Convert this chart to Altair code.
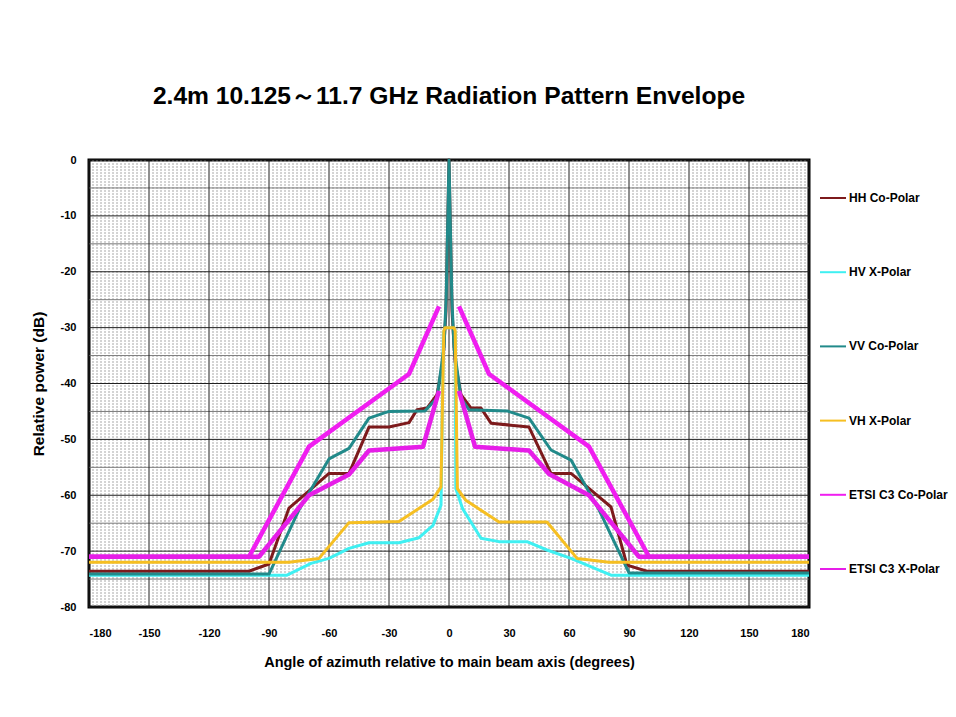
import altair as alt
import pandas as pd

SERIES = ["HH Co-Polar", "HV X-Polar", "VV Co-Polar", "VH X-Polar",
          "ETSI C3 Co-Polar", "ETSI C3 X-Polar"]
COLORS = ["#7d1a1c", "#3ff0f2", "#218a8a", "#f6bf22", "#f01ef0", "#e61ee8"]
WIDTHS = [3, 3, 3, 3, 4.5, 4.5]

# HH Co-Polar
hh_x = [-180, -100, -90, -80, -70, -60, -50, -40, -30, -20, -16, -11, -6, -3, -1.5, 0,
        1.5, 3, 6, 11, 16, 21, 40, 51, 61, 71, 81, 89, 99, 180]
hh_y = [-73.6, -73.6, -72.3, -62.3, -59.2, -56.1, -56.1, -47.8, -47.8, -47.0, -44.7, -44.4, -42.0, -36.0, -27.0, 0,
        -27.0, -36.0, -42.0, -44.4, -44.4, -47.1, -47.8, -56.1, -56.1, -59.1, -62.1, -72.5, -73.6, -73.6]

# HV X-Polar
hv_x = [-180, -81, -69, -60, -50, -40, -25, -15, -8, -4, -2.8, -2, 2.5, 3.1, 3.4, 6.8, 16, 25, 39, 49, 61, 81, 180]
hv_y = [-74.3, -74.3, -72.2, -71.3, -69.5, -68.5, -68.5, -67.6, -65.4, -61.8, -31.0, -30.0, -30.0, -31.0, -58.8,
        -62.4, -67.7, -68.3, -68.3, -69.8, -71.3, -74.3, -74.3]

# VV Co-Polar
vv_x = [-180, -90, -75, -60, -50, -40, -30, -12, -6, -2.5, -1.4, 0, 1.4, 2.5, 6, 10, 29, 40, 51, 61, 75, 90, 180]
vv_y = [-74.1, -74.1, -62.6, -53.5, -51.6, -46.2, -45.0, -44.9, -42.6, -33.5, -24.5, 0, -24.5, -33.5, -42.6, -44.7,
        -44.9, -46.2, -51.9, -53.7, -62.6, -73.9, -73.9]

# VH X-Polar
vh_x = [-180, -80, -65, -50, -25, -8, -4, -2.6, -2, 2.5, 3.1, 4.2, 8.4, 25, 49, 64, 80, 180]
vh_y = [-72.0, -72.0, -71.3, -64.9, -64.7, -60.7, -58.5, -30.6, -30.0, -30.0, -30.6, -58.8, -60.9, -64.8, -64.8,
        -71.3, -72.0, -72.0]

# ETSI C3 Co-Polar (two separate branches)
ec_left_x = [-180, -100, -70, -20, -5]
ec_left_y = [-71.0, -71.0, -51.3, -38.3, -26.2]
ec_right_x = [5, 20, 70, 100, 180]
ec_right_y = [-26.2, -38.3, -51.3, -71.0, -71.0]

# ETSI C3 X-Polar (two separate branches)
ex_left_x = [-180, -95, -70, -50, -40, -13, -5]
ex_left_y = [-71.0, -71.0, -60.0, -56.3, -52.0, -51.3, -41.3]
ex_right_x = [5, 13, 40, 50, 70, 95, 180]
ex_right_y = [-41.3, -51.3, -52.0, -56.2, -60.0, -71.0, -71.0]

X_TICKS = [-180, -150, -120, -90, -60, -30, 0, 30, 60, 90, 120, 150, 180]
Y_TICKS = [0, -10, -20, -30, -40, -50, -60, -70, -80]
Y_HALF = [-5, -15, -25, -35, -45, -55, -65, -75]
X_MINOR = [v for v in range(-178, 180, 2) if v % 30 != 0]

rows = []
def add(name, seg, xs, ys):
    for a, b in zip(xs, ys):
        rows.append({"series": name, "seg": seg, "x": a, "y": b})

add(SERIES[0], "a", hh_x, hh_y)
add(SERIES[1], "a", hv_x, hv_y)
add(SERIES[2], "a", vv_x, vv_y)
add(SERIES[3], "a", vh_x, vh_y)
add(SERIES[4], "l", ec_left_x, ec_left_y)
add(SERIES[4], "r", ec_right_x, ec_right_y)
add(SERIES[5], "l", ex_left_x, ex_left_y)
add(SERIES[5], "r", ex_right_x, ex_right_y)
df = pd.DataFrame(rows)

FONT = "Liberation Sans"
xs = alt.Scale(domain=[-180, 180], nice=False, zero=False)
ys = alt.Scale(domain=[-80, 0], nice=False, zero=False)

X_AX = alt.Axis(values=X_TICKS, labelExpr="'' + datum.value", ticks=False, grid=False, domain=False,
                labelFont=FONT, labelFontSize=11, labelFontWeight="bold", labelColor="black",
                labelPadding=20,
                title="Angle of azimuth relative to main beam axis (degrees)",
                titleFont=FONT, titleFontSize=14.5, titleFontWeight="bold", titleColor="black",
                titleX=360, titleY=55, titleBaseline="middle", titleAlign="center")
Y_AX = alt.Axis(values=Y_TICKS, labelExpr="'' + datum.value", ticks=False, grid=False, domain=False,
                labelFont=FONT, labelFontSize=11, labelFontWeight="bold", labelColor="black",
                labelPadding=13,
                title="Relative power (dB)",
                titleFont=FONT, titleFontSize=15.5, titleFontWeight="bold", titleColor="black",
                titleX=-51, titleY=223.5, titleAngle=-90, titleBaseline="middle", titleAlign="center")

def vrules(vals, **kw):
    return alt.Chart(pd.DataFrame({"x": vals})).mark_rule(**kw).encode(
        x=alt.X("x:Q", scale=xs, axis=X_AX))

def hrules(vals, **kw):
    return alt.Chart(pd.DataFrame({"y": vals})).mark_rule(**kw).encode(
        y=alt.Y("y:Q", scale=ys, axis=Y_AX))

grid = [
    vrules(X_MINOR, color="#a8a8a8", strokeWidth=1, strokeDash=[2, 1]),
    hrules(Y_HALF, color="#7a7a7a", strokeWidth=1),
    vrules(X_TICKS, color="#202020", strokeWidth=1),
    hrules(Y_TICKS, color="#202020", strokeWidth=1),
]

LEG = alt.Legend(orient="none", legendX=730, legendY=24, title=None,
                 symbolType="stroke", symbolSize=676, symbolStrokeWidth=2,
                 labelFont=FONT, labelFontSize=12, labelFontWeight="bold", labelColor="black",
                 labelOffset=2, rowPadding=54.2, padding=0)

base = alt.Chart(df)
lines = []
for name, w in zip(SERIES, WIDTHS):
    lines.append(
        base.transform_filter(alt.datum.series == name)
        .mark_line(strokeWidth=w, strokeJoin="round")
        .encode(
            x=alt.X("x:Q", scale=xs, axis=X_AX),
            y=alt.Y("y:Q", scale=ys, axis=Y_AX),
            color=alt.Color("series:N", scale=alt.Scale(domain=SERIES, range=COLORS), legend=LEG),
            detail="seg:N",
        )
    )

chart = alt.layer(*grid, *lines).properties(
    width=720, height=447,
    autosize=alt.AutoSizeParams(type="none"),
    padding={"left": 81, "top": 152, "right": 139, "bottom": 102},
    title=alt.TitleParams(text="2.4m 10.125～11.7 GHz Radiation Pattern Envelope",
                          font=FONT, fontSize=24.6, fontWeight="bold", color="black",
                          anchor="middle", offset=44),
    background="white",
).configure_view(stroke="black", strokeWidth=3)

chart.save("out.html", embed_options={"renderer": "svg", "actions": False})
